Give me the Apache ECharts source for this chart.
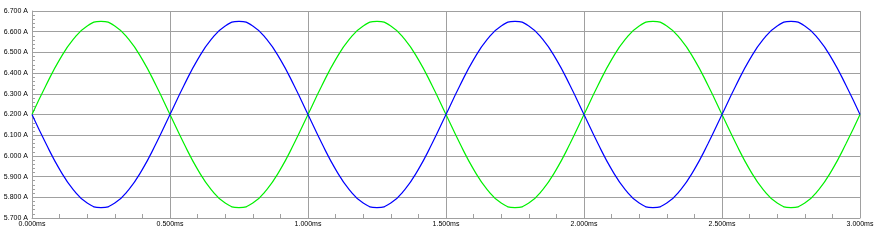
<!DOCTYPE html>
<html><head><meta charset="utf-8">
<script src="https://cdn.jsdelivr.net/npm/echarts@6/dist/echarts.min.js"></script>
<style>html,body{margin:0;padding:0;background:#fff}#c{width:886px;height:243px}</style>
</head><body><div id="c"></div>
<script>
// time in ms, sampled every 0.05 ms
const timeMs = [0.00,0.05,0.10,0.15,0.20,0.25,0.30,0.35,0.40,0.45,0.50,0.55,0.60,0.65,0.70,0.75,0.80,0.85,0.90,0.95,
1.00,1.05,1.10,1.15,1.20,1.25,1.30,1.35,1.40,1.45,1.50,1.55,1.60,1.65,1.70,1.75,1.80,1.85,1.90,1.95,
2.00,2.05,2.10,2.15,2.20,2.25,2.30,2.35,2.40,2.45,2.50,2.55,2.60,2.65,2.70,2.75,2.80,2.85,2.90,2.95,3.00];
const greenA = [6.200,6.339,6.465,6.564,6.628,6.650,6.628,6.564,6.465,6.339,6.200,6.061,5.935,5.836,5.772,5.750,5.772,5.836,5.935,6.061,
6.200,6.339,6.465,6.564,6.628,6.650,6.628,6.564,6.465,6.339,6.200,6.061,5.935,5.836,5.772,5.750,5.772,5.836,5.935,6.061,
6.200,6.339,6.465,6.564,6.628,6.650,6.628,6.564,6.465,6.339,6.200,6.061,5.935,5.836,5.772,5.750,5.772,5.836,5.935,6.061,6.200];
const blueA = [6.200,6.061,5.935,5.836,5.772,5.750,5.772,5.836,5.935,6.061,6.200,6.339,6.465,6.564,6.628,6.650,6.628,6.564,6.465,6.339,
6.200,6.061,5.935,5.836,5.772,5.750,5.772,5.836,5.935,6.061,6.200,6.339,6.465,6.564,6.628,6.650,6.628,6.564,6.465,6.339,
6.200,6.061,5.935,5.836,5.772,5.750,5.772,5.836,5.935,6.061,6.200,6.339,6.465,6.564,6.628,6.650,6.628,6.564,6.465,6.339,6.200];

const chart = echarts.init(document.getElementById('c'), null, {renderer:'canvas'});
const gray = '#a0a0a0';
const lbl = {color:'#000', fontFamily:'Liberation Sans', fontSize:7};
chart.setOption({
  animation:false,
  backgroundColor:'#fff',
  grid:{left:32, right:26, top:11, bottom:25, containLabel:false},
  xAxis:{type:'value', min:0, max:3, interval:0.5,
    axisLine:{show:true, lineStyle:{color:gray, width:1}},
    axisTick:{show:false, inside:true},
    minorTick:{show:true, splitNumber:5, length:4, lineStyle:{color:gray}},
    splitLine:{show:true, lineStyle:{color:gray, width:1}},
    axisLabel:Object.assign({}, lbl, {margin:3, formatter:v=>v.toFixed(3)+'ms'})
  },
  yAxis:{type:'value', min:5.7, max:6.7, interval:0.1,
    axisLine:{show:true, lineStyle:{color:gray, width:1}},
    axisTick:{show:false, inside:true},
    minorTick:{show:true, splitNumber:5, length:3, lineStyle:{color:gray}},
    splitLine:{show:true, lineStyle:{color:gray, width:1}},
    axisLabel:Object.assign({}, lbl, {margin:4, formatter:v=>v.toFixed(3)+' A'})
  },
  series:[
    {type:'line', data:timeMs.map((t,i)=>[t,greenA[i]]), smooth:true, showSymbol:false,
     lineStyle:{color:'#00f000', width:1.2}, z:3},
    {type:'line', data:timeMs.map((t,i)=>[t,blueA[i]]), smooth:true, showSymbol:false,
     lineStyle:{color:'#0000ff', width:1.2}, z:4}
  ]
});
</script></body></html>
